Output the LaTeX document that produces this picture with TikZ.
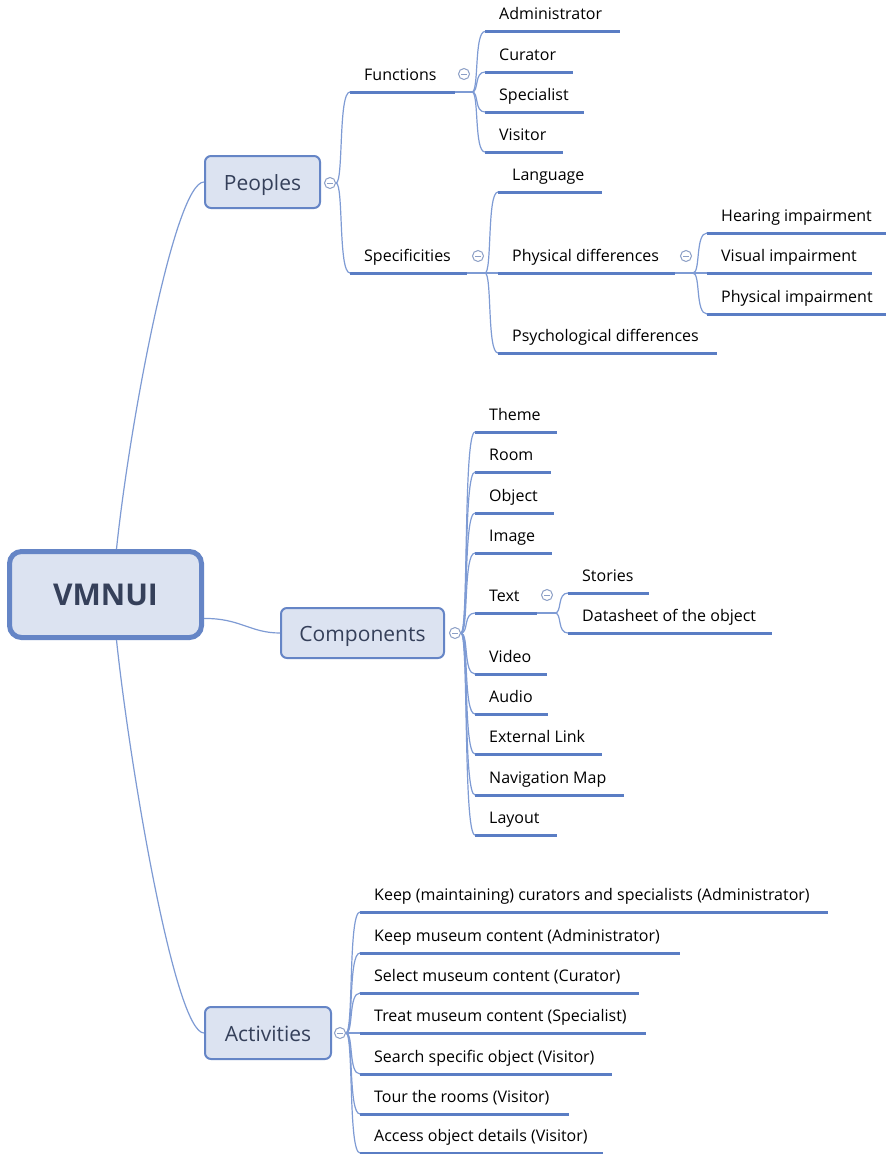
\documentclass[tikz,border=0pt]{standalone}
\usepackage{fontspec}
\setmainfont{Open Sans}
\usetikzlibrary{calc}
\definecolor{ulc}{HTML}{5A7DC4}
\definecolor{cnc}{HTML}{7E9BD4}
\definecolor{boxfill}{HTML}{DCE3F1}
\definecolor{boxdraw}{HTML}{6585C6}
\definecolor{boxtext}{HTML}{35405A}
\definecolor{knobc}{HTML}{8C9FC6}
\tikzset{
 x=1pt, y=-1pt,
 ul/.style={draw=ulc, line width=3pt},
 conn/.style={draw=cnc, line width=1.2pt},
 leaf/.style={inner sep=0pt, text height=12pt, text depth=11.5pt, font=\fontsize{16}{19}\selectfont, text=black, anchor=south west},
 topic/.style={draw=boxdraw, fill=boxfill, line width=2pt, rounded corners=6pt, text=boxtext, font=\fontsize{21}{25}\selectfont, inner sep=0pt, text height=16pt, text depth=0pt},
 rootbox/.style={draw=boxdraw, fill=boxfill, line width=5pt, rounded corners=12pt, text=boxtext, font=\fontsize{30}{36}\selectfont\bfseries, inner sep=0pt},
 knob/.style={circle, draw=knobc, fill=white, line width=1pt, minimum size=11pt, inner sep=0pt,
   path picture={\draw[draw=knobc, line width=1pt] ([xshift=-3pt]path picture bounding box.center) -- ([xshift=3pt]path picture bounding box.center);}},
}
\newcommand\leaf[5]{\node[leaf] (#1) at (#2,#3) {\makebox[#4pt][l]{\hspace*{14pt}#5}};
  \draw[ul] (#1.south west) -- (#1.south east);}
\newcommand\conn[2]{\draw[conn] let \p1=(#1), \p2=(#2.south west) in (\p1) .. controls ({\x1+0.55*(\x2-\x1)},\y1) and ({\x1+0.15*(\x2-\x1)},\y2) .. (\p2);}
\begin{document}
\begin{tikzpicture}
\fill[white] (0,0) rectangle (886,1154);
\useasboundingbox (0,0) rectangle (886,1154);

% root and main topics
\node[rootbox, minimum width=192pt, minimum height=86pt] (root) at (105.5,594.5) {VMNUI};
\node[topic, minimum width=115pt, minimum height=52pt] (peo) at (262.5,182) {Peoples};
\node[topic, minimum width=163pt, minimum height=50pt] (com) at (362.5,633) {Components};
\node[topic, minimum width=126pt, minimum height=52pt] (act) at (268,1033) {Activities};

\draw[conn] ([xshift=11pt]root.north) .. controls (130,420) and (175,182) .. (peo.west);
\draw[conn] ([yshift=-24pt]root.east) .. controls (240,618) and (250,633) .. (com.west);
\draw[conn] ([xshift=11pt]root.south) .. controls (130,768) and (175,1033) .. (act.west);

% knobs
\node[knob] (kP) at (330,183) {};
\node[knob] (kC) at (455,633) {};
\node[knob] (kA) at (340,1033) {};
\node[knob] (kF) at (464,74) {};
\node[knob] (kS) at (478,256) {};
\node[knob] (kPD) at (686,256) {};
\node[knob] (kT) at (547,595) {};

% Peoples
\leaf{fun}{350}{92}{105}{Functions}
\leaf{spe}{350}{273}{117}{Specificities}
\conn{kP.east}{fun}
\conn{kP.east}{spe}

\coordinate (jF) at (472,92);
\draw[conn] (fun.south east) -- (jF);
\leaf{adm}{485}{31.5}{135}{Administrator}
\leaf{cur}{485}{72}{88}{Curator}
\leaf{spc}{485}{112}{99}{Specialist}
\leaf{vis}{485}{152}{78}{Visitor}
\foreach \nm in {adm,cur,spc,vis}{\conn{jF}{\nm}}

\coordinate (jS) at (485,273);
\draw[conn] (spe.south east) -- (jS);
\leaf{lan}{498}{192}{104}{Language}
\leaf{phd}{498}{273}{177}{Physical differences}
\leaf{psy}{498}{353}{219}{Psychological differences}
\foreach \nm in {lan,phd,psy}{\conn{jS}{\nm}}

\coordinate (jPD) at (693,273);
\draw[conn] (phd.south east) -- (jPD);
\leaf{hea}{707}{233}{179}{Hearing impairment}
\leaf{vsi}{707}{273}{165}{Visual impairment}
\leaf{phi}{707}{314}{179}{Physical impairment}
\foreach \nm in {hea,vsi,phi}{\conn{jPD}{\nm}}

% Components
\leaf{the}{475}{432}{82}{Theme}
\leaf{roo}{475}{472}{76}{Room}
\leaf{obj}{475}{513}{79}{Object}
\leaf{ima}{475}{553}{77}{Image}
\leaf{txt}{475}{613}{62}{Text}
\leaf{vid}{475}{674}{72}{Video}
\leaf{aud}{475}{714}{73}{Audio}
\leaf{ext}{475}{754}{127}{External Link}
\leaf{nav}{475}{795}{149}{Navigation Map}
\leaf{lay}{475}{835}{82}{Layout}
\foreach \nm in {the,roo,obj,ima,txt,vid,aud,ext,nav,lay}{\conn{kC.east}{\nm}}

\coordinate (jT) at (555,613);
\draw[conn] (txt.south east) -- (jT);
\leaf{sto}{568}{593}{81}{Stories}
\leaf{dat}{568}{633}{204}{Datasheet of the object}
\foreach \nm in {sto,dat}{\conn{jT}{\nm}}

% Activities
\leaf{a1}{360}{912}{468}{Keep (maintaining) curators and specialists (Administrator)}
\leaf{a2}{360}{953}{320}{Keep museum content (Administrator)}
\leaf{a3}{360}{993}{279}{Select museum content (Curator)}
\leaf{a4}{360}{1033}{286}{Treat museum content (Specialist)}
\leaf{a5}{360}{1074}{252}{Search specific object (Visitor)}
\leaf{a6}{360}{1114}{209}{Tour the rooms (Visitor)}
\leaf{a7}{360}{1153}{243}{Access object details (Visitor)}
\foreach \nm in {a1,a2,a3,a4,a5,a6,a7}{\conn{kA.east}{\nm}}
\end{tikzpicture}
\end{document}
